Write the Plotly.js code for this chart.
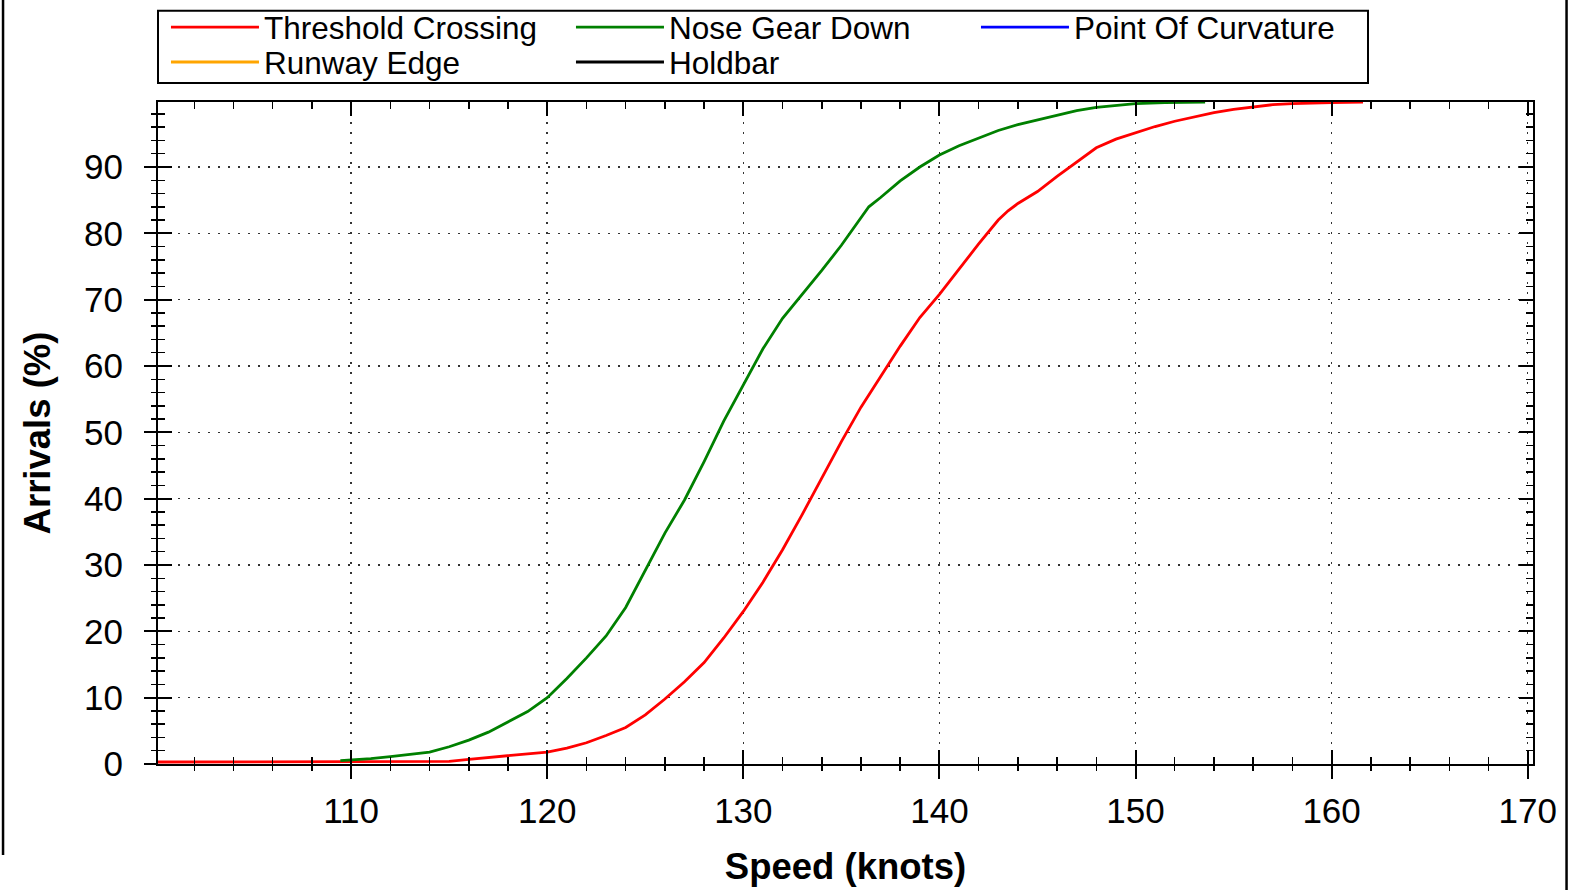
<!DOCTYPE html>
<html><head><meta charset="utf-8">
<script src="https://cdn.plot.ly/plotly-3.0.1.min.js"></script>
<style>html,body{margin:0;padding:0;background:#fff}#chart{width:1572px;height:890px}</style>
</head><body><div id="chart"></div>
<script>
const seriesNames = ['Threshold Crossing', 'Nose Gear Down', 'Point Of Curvature', 'Runway Edge', 'Holdbar'];
const seriesColors = ['#FF0000', '#008000', '#0000FF', '#FFA500', '#000000'];
const seriesLegendRow = ['legend', 'legend', 'legend', 'legend2', 'legend2'];

const thresholdSpeed = [100.15, 105, 110, 114, 115, 116, 117, 118, 119, 120, 121, 122, 123, 124, 125, 126, 127, 128, 129, 130, 131, 132, 133, 134, 135, 136, 137, 138, 139, 140, 141, 142, 143, 143.5, 144, 145, 146, 147, 148, 149, 150, 151, 152, 153, 154, 155, 156, 157, 158, 159, 160, 161.6];
const thresholdPct = [0.3, 0.3, 0.3, 0.3, 0.4, 0.7, 0.95, 1.2, 1.45, 1.8, 2.4, 3.2, 4.3, 5.5, 7.4, 9.8, 12.4, 15.3, 19.0, 23.0, 27.4, 32.3, 37.6, 43.1, 48.6, 53.8, 58.4, 63.0, 67.3, 70.8, 74.6, 78.4, 82.0, 83.4, 84.5, 86.3, 88.6, 90.8, 92.9, 94.2, 95.2, 96.1, 96.9, 97.6, 98.2, 98.7, 99.1, 99.4, 99.55, 99.65, 99.7, 99.8];

const noseGearSpeed = [109.45, 110, 111, 112, 113, 114, 115, 116, 117, 118, 119, 120, 121, 122, 123, 124, 125, 126, 127, 128, 129, 130, 131, 132, 133, 134, 135, 136, 136.4, 137, 138, 139, 140, 141, 142, 143, 144, 145, 146, 147, 148, 149, 150, 151.5, 153.55];
const noseGearPct = [0.5, 0.6, 0.8, 1.1, 1.45, 1.8, 2.6, 3.6, 4.8, 6.4, 7.9, 10.0, 12.9, 16.0, 19.3, 23.6, 29.3, 34.8, 39.8, 45.6, 51.7, 57.2, 62.6, 67.2, 70.8, 74.4, 78.2, 82.4, 84.0, 85.4, 87.9, 90.0, 91.8, 93.2, 94.4, 95.5, 96.4, 97.1, 97.8, 98.5, 99.0, 99.3, 99.55, 99.7, 99.8];

// series with no visible data in the chart (legend only)
const curvatureSpeed = [null];
const curvaturePct = [null];
const runwayEdgeSpeed = [null];
const runwayEdgePct = [null];
const holdbarSpeed = [null];
const holdbarPct = [null];

const xTickVals = [110, 120, 130, 140, 150, 160, 170];
const yTickVals = [0, 10, 20, 30, 40, 50, 60, 70, 80, 90];
const xRange = [100.15, 170.27];
const yRange = [0, 99.8];

const FONT = '"Liberation Sans", Arial, sans-serif';
const seriesX = [thresholdSpeed, noseGearSpeed, curvatureSpeed, runwayEdgeSpeed, holdbarSpeed];
const seriesY = [thresholdPct, noseGearPct, curvaturePct, runwayEdgePct, holdbarPct];

const traces = seriesNames.map((name, i) => ({
  type: 'scatter', mode: 'lines', name: name, legend: seriesLegendRow[i],
  x: seriesX[i], y: seriesY[i],
  line: {color: seriesColors[i], width: 2.8},
  hoverinfo: 'x+y+name'
}));
traces.push({type: 'scatter', mode: 'lines', x: [null], y: [null], xaxis: 'x2', yaxis: 'y2', showlegend: false, hoverinfo: 'skip'});

const legendCommon = {
  orientation: 'h', xanchor: 'left', yanchor: 'top',
  bgcolor: 'rgba(0,0,0,0)', borderwidth: 0,
  font: {family: FONT, size: 31.5, color: '#000000'},
  itemwidth: 88, entrywidth: 302, traceorder: 'normal'
};

const gridDash = '2px,8px';
const layout = {
  width: 1572, height: 890,
  margin: {l: 158, r: 39, t: 102, b: 126, autoexpand: false},
  paper_bgcolor: '#ffffff', plot_bgcolor: '#ffffff',
  font: {family: FONT, color: '#000000', size: 31},
  showlegend: true,
  legend: Object.assign({}, legendCommon, {x: 0.0058, y: 1.154}),
  legend2: Object.assign({}, legendCommon, {x: 0.0058, y: 1.1012}),
  xaxis: {
    range: xRange, showline: true, linecolor: '#000000', linewidth: 2, mirror: 'ticks',
    ticks: 'inside', ticklen: 14, tickwidth: 2, tickcolor: '#000000',
    tickmode: 'array', tickvals: xTickVals, showticklabels: false,
    minor: {dtick: 2, tick0: 100, ticks: 'inside', ticklen: 7, tickwidth: 1.5, tickcolor: '#000000', showgrid: false},
    showgrid: true, gridcolor: '#333333', gridwidth: 1.5, griddash: gridDash,
    zeroline: false, fixedrange: true
  },
  yaxis: {
    range: yRange, showline: true, linecolor: '#000000', linewidth: 2, mirror: 'ticks',
    ticks: 'inside', ticklen: 14, tickwidth: 2, tickcolor: '#000000',
    tickmode: 'array', tickvals: yTickVals, showticklabels: false,
    minor: {dtick: 2, tick0: 0, ticks: 'inside', ticklen: 7, tickwidth: 1.5, tickcolor: '#000000', showgrid: false},
    showgrid: true, gridcolor: '#333333', gridwidth: 1.5, griddash: gridDash,
    zeroline: false, fixedrange: true
  },
  xaxis2: {
    overlaying: 'x', anchor: 'y', side: 'bottom', range: xRange,
    showline: false, showgrid: false, zeroline: false,
    ticks: 'outside', ticklen: 14, tickwidth: 2, tickcolor: '#000000',
    tickmode: 'array', tickvals: xTickVals, ticktext: xTickVals.map(String),
    minor: {dtick: 2, tick0: 100, ticks: 'outside', ticklen: 6, tickwidth: 1.5, tickcolor: '#000000', showgrid: false},
    tickfont: {family: FONT, size: 35, color: '#000000'}, ticklabelstandoff: 2,
    title: {text: 'Speed (knots)', font: {family: FONT, size: 36.5, color: '#000000', weight: 'bold'}, standoff: 24},
    fixedrange: true
  },
  yaxis2: {
    overlaying: 'y', anchor: 'x', side: 'left', range: yRange,
    showline: false, showgrid: false, zeroline: false,
    ticks: 'outside', ticklen: 13, tickwidth: 2, tickcolor: '#000000',
    tickmode: 'array', tickvals: yTickVals, ticktext: yTickVals.map(String),
    minor: {dtick: 2, tick0: 0, ticks: 'outside', ticklen: 6, tickwidth: 1.5, tickcolor: '#000000', showgrid: false},
    tickfont: {family: FONT, size: 35, color: '#000000'}, ticklabelstandoff: 14,
    title: {text: 'Arrivals (%)', font: {family: FONT, size: 36.5, color: '#000000', weight: 'bold'}, standoff: 22},
    fixedrange: true
  },
  shapes: [
    // legend frame
    {type: 'rect', xref: 'paper', yref: 'paper', x0: 0, x1: 0.88, y0: 1.0287, y1: 1.138, line: {color: '#000000', width: 2}, layer: 'above'},
    // outer image frame
    {type: 'line', xref: 'paper', yref: 'paper', x0: -0.1127, x1: -0.1127, y0: 1.16, y1: -0.1375, line: {color: '#000000', width: 2.5}, layer: 'above'},
    {type: 'line', xref: 'paper', yref: 'paper', x0: 1.0244, x1: 1.0244, y0: 1.16, y1: -0.2, line: {color: '#000000', width: 2.5}, layer: 'above'}
  ]
};

Plotly.newPlot('chart', traces, layout, {displayModeBar: false, staticPlot: true});
</script>
</body></html>
